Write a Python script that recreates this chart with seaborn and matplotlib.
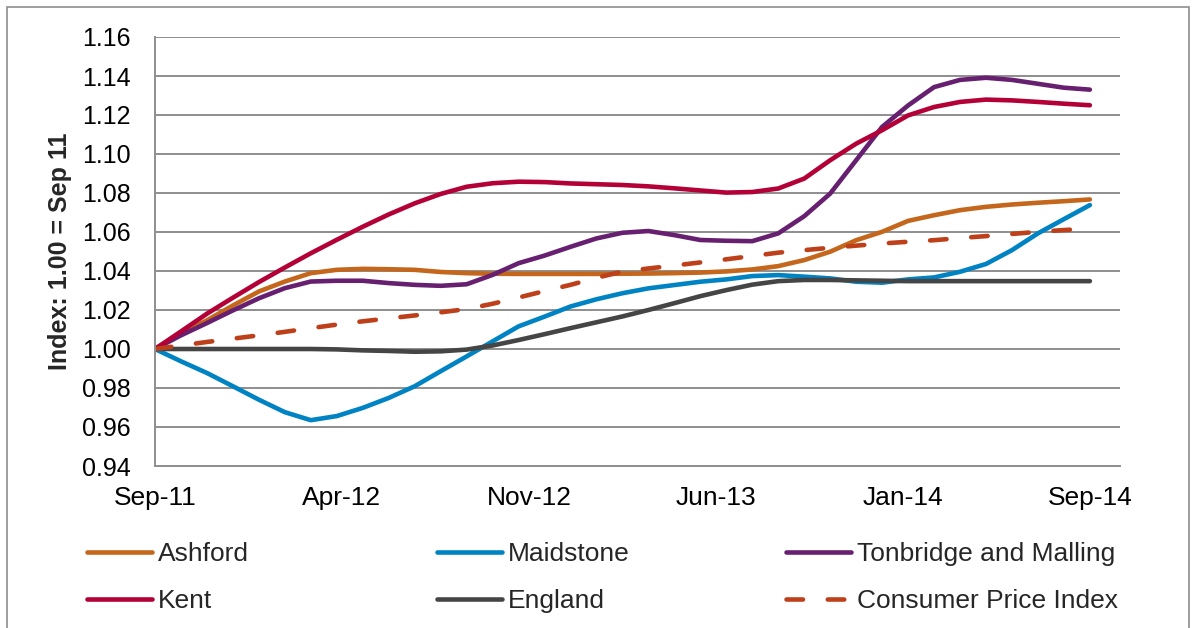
import matplotlib
matplotlib.use("Agg")
import matplotlib.pyplot as plt
import numpy as np
import pandas as pd
import seaborn as sns
from matplotlib.patches import Rectangle

# months since Sep-11
months = list(range(0, 37))

ashford = [1.000, 1.0082, 1.0147, 1.0223, 1.0295, 1.0346, 1.0389, 1.0406, 1.0411, 1.0409,
           1.0406, 1.0395, 1.0389, 1.0386, 1.0385, 1.0385, 1.0385, 1.0385, 1.0386, 1.0387,
           1.0389, 1.0392, 1.0398, 1.0408, 1.0425, 1.0456, 1.0499, 1.0558, 1.0601, 1.0657,
           1.0686, 1.0712, 1.0729, 1.0741, 1.0750, 1.0758, 1.0767]
maidstone = [1.000, 0.9937, 0.9877, 0.9809, 0.9740, 0.9676, 0.9635, 0.9656, 0.9698, 0.9749,
             0.9809, 0.9886, 0.9962, 1.0039, 1.0116, 1.0166, 1.0218, 1.0255, 1.0286, 1.0311,
             1.0328, 1.0345, 1.0357, 1.0374, 1.0379, 1.0371, 1.0362, 1.0345, 1.0340, 1.0357,
             1.0367, 1.0396, 1.0436, 1.0507, 1.0593, 1.0666, 1.0738]
tonbridge = [1.000, 1.0070, 1.0133, 1.0198, 1.0260, 1.0312, 1.0346, 1.0350, 1.0350, 1.0338,
             1.0329, 1.0324, 1.0332, 1.0380, 1.0440, 1.0479, 1.0524, 1.0567, 1.0596, 1.0605,
             1.0584, 1.0559, 1.0555, 1.0553, 1.0593, 1.0681, 1.0797, 1.0968, 1.1139, 1.1249,
             1.1343, 1.1380, 1.1391, 1.1380, 1.1360, 1.1340, 1.1330]
kent = [1.000, 1.0090, 1.0181, 1.0263, 1.0343, 1.0418, 1.0491, 1.0560, 1.0627, 1.0690,
        1.0747, 1.0795, 1.0832, 1.0850, 1.0858, 1.0856, 1.0849, 1.0845, 1.0841, 1.0834,
        1.0824, 1.0813, 1.0802, 1.0805, 1.0823, 1.0874, 1.0968, 1.1053, 1.1122, 1.1198,
        1.1241, 1.1267, 1.1279, 1.1275, 1.1267, 1.1258, 1.1250]
england = [1.000, 1.000, 1.000, 1.000, 1.000, 1.000, 1.000, 0.9998, 0.9993, 0.9990,
           0.9986, 0.9988, 0.9997, 1.0018, 1.0046, 1.0076, 1.0107, 1.0137, 1.0167, 1.0200,
           1.0235, 1.0271, 1.0302, 1.0330, 1.0348, 1.0354, 1.0354, 1.0352, 1.0350, 1.0348,
           1.0348, 1.0348, 1.0348, 1.0348, 1.0348, 1.0348, 1.0348]
cpi = [1.000, 1.0018, 1.0036, 1.0053, 1.0070, 1.0088, 1.0107, 1.0125, 1.0142, 1.0157,
       1.0172, 1.0188, 1.0205, 1.0232, 1.0264, 1.0297, 1.0329, 1.0365, 1.0397, 1.0413,
       1.0428, 1.0444, 1.0460, 1.0477, 1.0494, 1.0507, 1.0519, 1.0530, 1.0541, 1.0550,
       1.0558, 1.0569, 1.0579, 1.0590, 1.0601, 1.0610, 1.0618]

series_names = ["Ashford", "Maidstone", "Tonbridge and Malling", "Kent", "England",
                "Consumer Price Index"]
colours = ["#C4661B", "#0083C3", "#671F70", "#B30036", "#454545", "#BE401A"]

tick_pos = [0, 7.2, 14.4, 21.6, 28.8, 36]
tick_labels = ["Sep-11", "Apr-12", "Nov-12", "Jun-13", "Jan-14", "Sep-14"]
y_ticks = np.round(np.arange(0.94, 1.1601, 0.02), 2)

sns.set_style("white")
plt.rcParams["font.family"] = ["Liberation Sans", "DejaVu Sans"]

fig = plt.figure(figsize=(11.94, 6.28), dpi=100)
ax = fig.add_axes([155 / 1194, 1 - 466 / 628, (1120 - 155) / 1194, (466 - 37) / 628])

values = [ashford, maidstone, tonbridge, kent, england, cpi]
handles = {}
for name, vals, col in zip(series_names, values, colours):
    sns.lineplot(x=months, y=vals, ax=ax, color=col, lw=3.3, label=name,
                 solid_capstyle="round", solid_joinstyle="round")
    line = ax.lines[-1]
    if name == "Consumer Price Index":
        line.set_linestyle((0, (3.6, 5.4)))
        line.set_dash_capstyle("round")
    handles[name] = line

ax.get_legend().remove()

ax.set_xlim(0, 37.16)
ax.set_ylim(0.94, 1.16)
ax.set_xticks(tick_pos)
ax.set_xticklabels(tick_labels)
ax.set_yticks(y_ticks)
ax.set_yticklabels([f"{v:.2f}" for v in y_ticks])
ax.yaxis.grid(True, color="#8E8E8E", lw=1.4)
ax.set_axisbelow(True)
for s in ["top", "right"]:
    ax.spines[s].set_visible(False)
for s in ["left", "bottom"]:
    ax.spines[s].set_color("#8E8E8E")
    ax.spines[s].set_linewidth(1.4)
ax.tick_params(axis="both", direction="out", length=4.5, width=1.2, color="#8E8E8E",
               labelcolor="black")
ax.tick_params(axis="x", pad=10, labelsize=19)
ax.tick_params(axis="y", pad=13, labelsize=18)
ax.set_xlabel("")
ax.set_ylabel("Index: 1.00 = Sep 11", fontsize=18, fontweight="bold")
ax.yaxis.set_label_coords(-0.086, 0.5)

# legend: three columns, two rows each
columns = [["Ashford", "Kent"], ["Maidstone", "England"],
           ["Tonbridge and Malling", "Consumer Price Index"]]
col_x = [87, 437, 786]
for names, x0 in zip(columns, col_x):
    fig.legend([handles[n] for n in names], names, frameon=False, fontsize=19,
               loc="upper left", bbox_to_anchor=(x0 / 1194, 1 - 542 / 628),
               handlelength=2.45, handletextpad=0.25, labelspacing=0.88,
               borderaxespad=0, borderpad=0)

fig.patches.append(Rectangle((7 / 1194, -0.05), 1182 / 1194, 1.05 - 7 / 628,
                             transform=fig.transFigure, fill=False,
                             edgecolor="#8E8E8E", lw=1.2))

fig.savefig("out.png", dpi=100)
